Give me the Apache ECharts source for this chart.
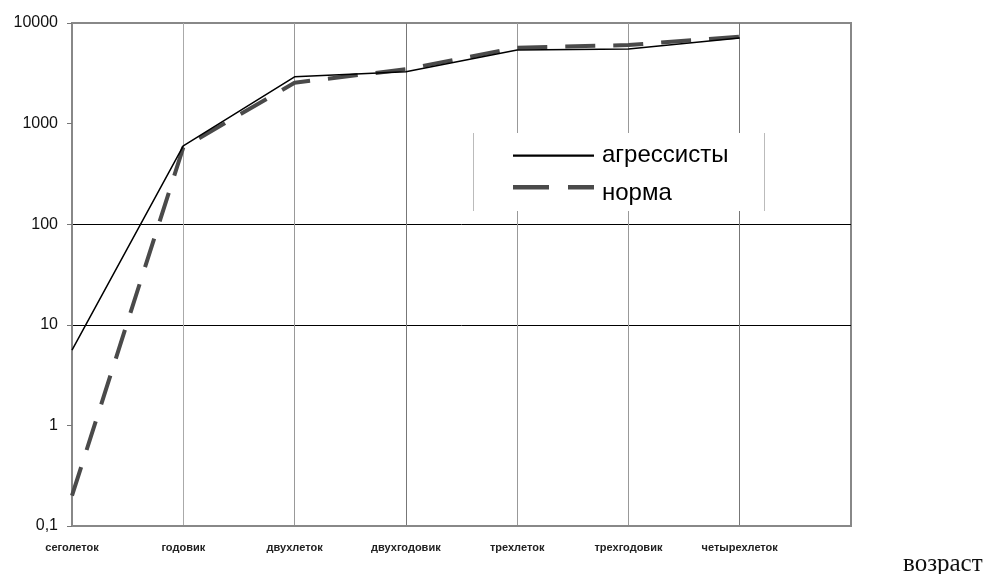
<!DOCTYPE html>
<html>
<head>
<meta charset="utf-8">
<script src="https://cdn.jsdelivr.net/npm/echarts@6/dist/echarts.min.js"></script>
<style>
  html, body { margin: 0; padding: 0; background: #fff; }
  #root { width: 990px; height: 574px; }
</style>
</head>
<body>
<div id="root"></div>
<script>
// age classes (last slot is empty, as in the original sheet)
var ages = ['сеголеток', 'годовик', 'двухлеток', 'двухгодовик', 'трехлеток', 'трехгодовик', 'четырехлеток', ''];
var aggressive = [5.6, 600, 2920, 3280, 5400, 5520, 7100, null];
var normal = [0.2, 580, 2550, 3470, 5690, 6040, 7310, null];
var seriesNames = ['агрессисты', 'норма'];

// legend icons in a 81 x 16 box: solid line centred, dashed line near the top
var solidIcon = 'path://M0,0h0.1v0.1h-0.1z M0,7h81v2.2h-81z M0,15.9h0.1v0.1h-0.1z';
var dashIcon = 'path://M0,0h36v4.5h-36z M55,0h26v4.5h-26z M0,15.9h0.1v0.1h-0.1z';

var myChart = echarts.init(document.getElementById('root'));

var fmtY = function (v) {
    if (v < 1) return '0,1';
    return String(Math.round(v));
};

var option = {
    backgroundColor: '#fff',
    animation: false,
    grid: {
        left: 72, top: 23, right: 139, bottom: 48,
        show: true, borderColor: '#888', borderWidth: 2, backgroundColor: 'transparent'
    },
    graphic: [
        // white legend box with grey side edges
        { type: 'rect', z: 3, shape: { x: 473, y: 133, width: 291, height: 78 }, style: { fill: '#fff' } },
        { type: 'line', z: 3, shape: { x1: 473.5, y1: 133, x2: 473.5, y2: 211 }, style: { stroke: '#bbb', lineWidth: 1 } },
        { type: 'line', z: 3, shape: { x1: 764.5, y1: 133, x2: 764.5, y2: 211 }, style: { stroke: '#bbb', lineWidth: 1 } },
        {
            type: 'text', z: 5,
            style: {
                x: 903, y: 564, text: 'возраст', verticalAlign: 'middle',
                font: '25px "Liberation Serif", serif', fill: '#111'
            }
        }
    ],
    legend: {
        z: 4,
        orient: 'vertical',
        left: 508, top: 138.5,
        itemWidth: 81, itemHeight: 16, itemGap: 13.5,
        textStyle: { fontSize: 24, fontFamily: '"Liberation Sans", Arial', color: '#000', padding: [0, 0, 0, 3] },
        data: [
            { name: seriesNames[0], icon: solidIcon },
            { name: seriesNames[1], icon: dashIcon }
        ]
    },
    xAxis: {
        type: 'category',
        data: ages,
        boundaryGap: false,
        axisLine: { lineStyle: { color: '#888', width: 2 } },
        axisTick: { show: false },
        axisLabel: {
            interval: 0, margin: 16,
            fontSize: 11, fontWeight: 'bold', fontFamily: '"Liberation Sans", Arial', color: '#222'
        },
        splitLine: {
            show: true,
            lineStyle: { width: 1, color: ['#888', '#aaa', '#999', '#777', '#999', '#999', '#777', '#888'] }
        }
    },
    yAxis: {
        type: 'log',
        logBase: 10,
        min: 0.1, max: 10000,
        axisLine: { show: true, lineStyle: { color: '#888', width: 2 } },
        axisTick: { show: true, length: 5, lineStyle: { color: '#777' } },
        axisLabel: {
            margin: 14, fontSize: 16, fontFamily: '"Liberation Sans", Arial', color: '#111',
            formatter: fmtY
        },
        splitLine: {
            show: true,
            lineStyle: { width: 1, color: ['#888', 'rgba(0,0,0,0)', '#000', '#000', 'rgba(0,0,0,0)', '#888'] }
        }
    },
    series: [
        {
            name: seriesNames[0], type: 'line', data: aggressive,
            symbol: 'none', z: 3,
            lineStyle: { color: '#000', width: 1.5 },
            itemStyle: { color: '#000' }
        },
        {
            name: seriesNames[1], type: 'line', data: normal,
            symbol: 'none', z: 2,
            lineStyle: { color: '#4a4a4a', width: 4, type: [30, 18] },
            itemStyle: { color: '#4a4a4a' }
        }
    ]
};

option && myChart.setOption(option);
</script>
</body>
</html>
